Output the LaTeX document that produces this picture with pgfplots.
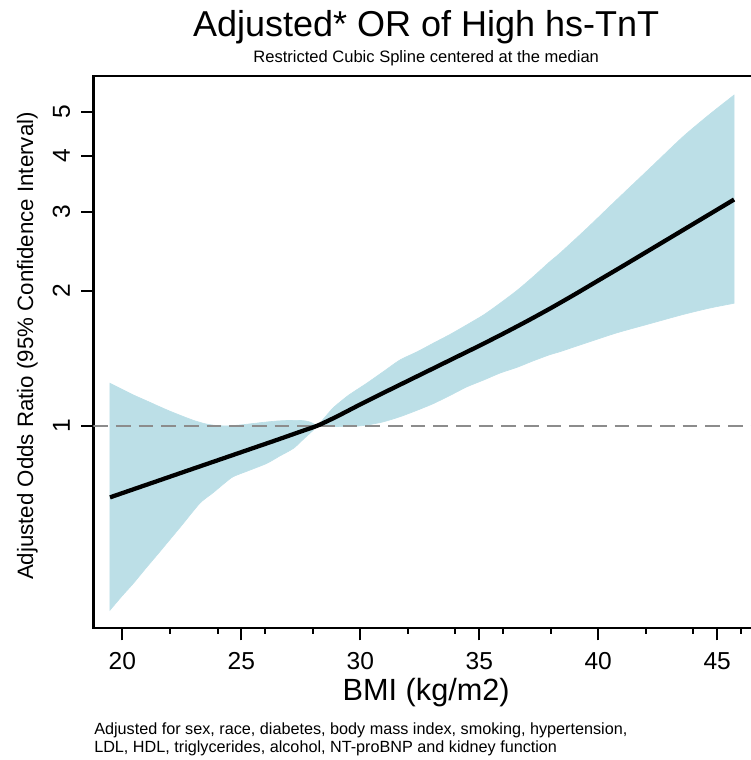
\documentclass[border=0pt]{standalone}
\usepackage{fontspec}
\setmainfont{Liberation Sans}
\usepackage{pgfplots}
\usepackage{pgfplotstable}
\pgfplotsset{compat=1.18}
\usepgfplotslibrary{fillbetween}

\definecolor{bandblue}{RGB}{188,223,231}
\definecolor{refgray}{RGB}{140,140,140}

% spline estimate (odds ratio vs BMI)
\pgfplotstableread{
bmi or
19.48 0.692
20.5 0.7225
21.5 0.7535
22.5 0.786
23.5 0.8196
24.5 0.8547
25.5 0.8914
26.5 0.9296
27.5 0.9704
28.2 1.000
29.0 1.0471
30.0 1.1152
31.0 1.1853
32.0 1.2586
33.0 1.3364
34.0 1.4191
35.0 1.5068
36.0 1.6032
37.0 1.7093
38.0 1.8276
39.0 1.9601
40.0 2.1064
41.0 2.2637
42.0 2.4351
43.0 2.6195
44.0 2.8180
45.0 3.0313
45.71 3.193
}\esttab

% upper 95% limit
\pgfplotstableread{
bmi or
19.48 1.243
20.0 1.204
20.5 1.168
21.0 1.137
21.5 1.106
22.0 1.077
22.5 1.051
23.0 1.027
23.5 1.009
24.0 1.000
24.5 0.999
25.0 1.004
25.5 1.011
26.0 1.018
26.5 1.024
27.0 1.027
27.5 1.027
27.8 1.022
28.0 1.012
28.2 1.000
28.5 1.042
28.88 1.098
29.5 1.168
30.27 1.243
31.0 1.323
31.67 1.401
32.4 1.462
33.07 1.527
33.8 1.600
34.47 1.677
35.2 1.768
35.87 1.874
36.6 2.004
37.27 2.149
37.97 2.321
38.39 2.423
39.5 2.746
40.77 3.187
42.2 3.762
43.57 4.411
44.7 4.953
45.71 5.458
}\uptab

% lower 95% limit
\pgfplotstableread{
bmi or
19.48 0.388
20.0 0.418
20.46 0.445
21.0 0.482
21.5 0.518
21.87 0.547
22.5 0.600
23.26 0.672
23.8 0.708
24.3 0.745
24.66 0.770
25.3 0.794
26.07 0.824
26.6 0.855
27.19 0.890
27.6 0.932
28.03 0.978
28.2 1.000
28.6 0.997
29.3 0.995
30.0 0.999
30.5 1.008
30.97 1.020
31.67 1.047
32.4 1.083
33.07 1.120
33.8 1.170
34.47 1.220
35.2 1.265
35.87 1.310
36.6 1.350
37.27 1.395
37.97 1.440
38.39 1.462
39.5 1.530
40.77 1.610
42.2 1.690
43.57 1.770
44.7 1.830
45.71 1.875
}\lowtab

\begin{document}
\begin{tikzpicture}
\begin{axis}[
    scale only axis,
    width=499.3pt, height=414.2pt,
    xmin=18.78, xmax=46.76,
    ymode=log, ymin=0.3534, ymax=6.02,
    xtick={20,25,30,35,40,45},
    minor xtick={22,24,26,28,32,34,36,38,42,44,46},
    ytick={1,2,3,4,5}, yticklabels={1,2,3,4,5},
    yminorticks=false,
    tick pos=left, tick align=outside,
    major tick length=9pt, minor tick length=4.3pt,
    axis line style={line width=1.8pt},
    major tick style={line width=1.5pt, black},
    minor tick style={line width=1.5pt, black},
    /pgf/number format/assume math mode=true,
    tick label style={font=\fontsize{18.4}{20}\selectfont},
    xticklabel style={anchor=base},
    xticklabel shift=21.9pt,
    yticklabel style={rotate=90, anchor=base},
    yticklabel shift=8.5pt,
]
\addplot[refgray, line width=1.5pt, dash pattern=on 11pt off 6pt, forget plot]
    coordinates {(18.78,1) (46.76,1)};
\addplot[draw=none, smooth, tension=0.4, name path=U, forget plot] table[x=bmi, y=or] {\uptab};
\addplot[draw=none, smooth, tension=0.4, name path=L, forget plot] table[x=bmi, y=or] {\lowtab};
\addplot[fill=bandblue, draw=bandblue, line width=0.5pt, forget plot] fill between[of=U and L];
\addplot[black, line width=3.2pt, smooth, tension=0.4, line join=round, forget plot] table[x=bmi, y=or] {\esttab};
\end{axis}

\node[anchor=base] at (249.65pt,443.7pt) {\fontsize{27}{30}\selectfont Adjusted* OR of High hs-TnT};
\node[anchor=base] at (249.65pt,424pt) {\fontsize{12.4}{14}\selectfont Restricted Cubic Spline centered at the median};
\node[anchor=base] at (249.65pt,-54.5pt) {\fontsize{23}{26}\selectfont BMI (kg/m2)};
\node[anchor=base, rotate=90] at (-45.2pt,211.7pt) {\fontsize{16.7}{19}\selectfont Adjusted Odds Ratio (95\% Confidence Interval)};
\node[anchor=base west, inner sep=0pt] at (0.5pt,-79.3pt) {\fontsize{12.15}{13.1}\selectfont Adjusted for sex, race, diabetes, body mass index, smoking, hypertension,};
\node[anchor=base west, inner sep=0pt] at (0.5pt,-93.5pt) {\fontsize{12.15}{13.1}\selectfont LDL, HDL, triglycerides, alcohol, NT-proBNP and kidney function};

\pgfresetboundingbox
\path[use as bounding box] (-70pt,-98.8pt) rectangle (492.5pt,471.2pt);
\end{tikzpicture}
\end{document}
